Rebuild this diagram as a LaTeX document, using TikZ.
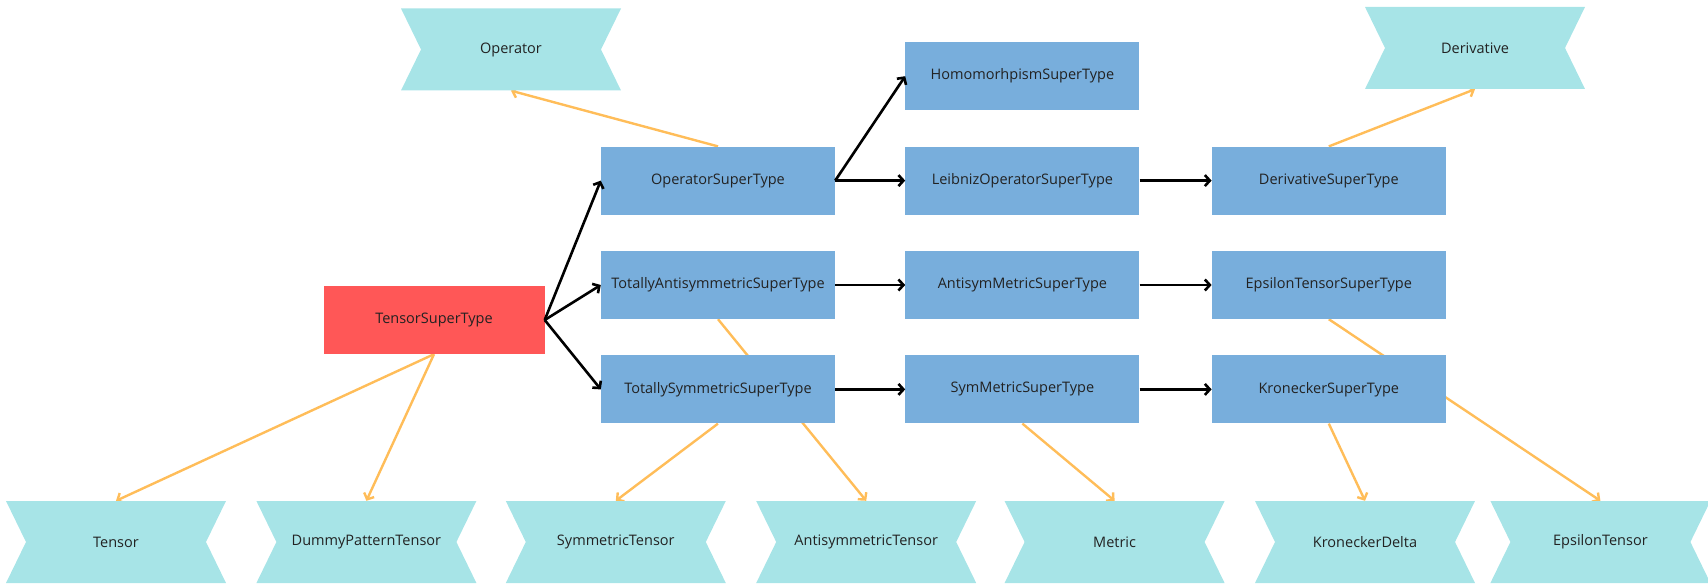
\documentclass[tikz,border=0pt]{standalone}
\usepackage{fontspec}
\setmainfont{Open Sans}
\usetikzlibrary{positioning, calc, arrows.meta, backgrounds}

\definecolor{boxblue}{HTML}{78AEDC}
\definecolor{rootred}{HTML}{FF5757}
\definecolor{ribboncol}{HTML}{A7E4E7}
\definecolor{linkorange}{HTML}{FFBD59}
\definecolor{labeltext}{HTML}{222222}

\begin{document}
\begin{tikzpicture}[
    font=\fontsize{14.5}{17}\selectfont,
    supertype/.style={rectangle, fill=boxblue, text=labeltext, minimum width=234pt, minimum height=68pt, inner sep=0pt},
    root/.style={rectangle, fill=rootred, text=labeltext, minimum width=221pt, minimum height=68pt, inner sep=0pt},
    banner/.style={rectangle, text=labeltext, minimum width=220pt, minimum height=82pt, inner sep=0pt,
        path picture={
            \fill[ribboncol] (path picture bounding box.north west) -- (path picture bounding box.north east)
                -- ([xshift=-20pt]path picture bounding box.east) -- (path picture bounding box.south east)
                -- (path picture bounding box.south west) -- ([xshift=20pt]path picture bounding box.west) -- cycle;
        }},
    isa/.style={-{Straight Barb[length=5pt, width=11pt]}, line width=2.6pt, line join=round, black},
    inst/.style={-{Straight Barb[length=5pt, width=11pt]}, line width=2.4pt, line join=round, linkorange}
]
    \useasboundingbox (0,0) rectangle (1708pt,-585pt);

    % Super types
    \node[root] (tensorst) at (434pt,-320pt) {TensorSuperType};
    \node[supertype] (tanti) at (718pt,-285pt) {TotallyAntisymmetricSuperType};
    \node[supertype] (opst) [above=36pt of tanti] {OperatorSuperType};
    \node[supertype] (tsym) [below=36pt of tanti] {TotallySymmetricSuperType};
    \node[supertype] (antimetricst) [right=70pt of tanti] {AntisymMetricSuperType};
    \node[supertype] (leibnizst) [above=36pt of antimetricst] {LeibnizOperatorSuperType};
    \node[supertype] (homost) [above=36pt of leibnizst] {HomomorhpismSuperType};
    \node[supertype] (symmetricst) [below=36pt of antimetricst] {SymMetricSuperType};
    \node[supertype] (epsst) [right=72pt of antimetricst] {EpsilonTensorSuperType};
    \node[supertype] (derivst) [above=36pt of epsst] {DerivativeSuperType};
    \node[supertype] (kronst) [below=36pt of epsst] {KroneckerSuperType};

    % Types
    \node[banner] (operator) at (511pt,-49.5pt) {Operator};
    \node[banner] (derivative) at (1475pt,-48pt) {Derivative};
    \node[banner] (tensor) at (116pt,-542pt) {Tensor};
    \node[banner] (dummy) [right=30pt of tensor] {DummyPatternTensor};
    \node[banner] (symtensor) [right=29pt of dummy] {SymmetricTensor};
    \node[banner] (antisymtensor) [right=30pt of symtensor] {AntisymmetricTensor};
    \node[banner] (metric) [right=28pt of antisymtensor] {Metric};
    \node[banner] (kronecker) [right=30pt of metric] {KroneckerDelta};
    \node[banner] (epsilon) [right=15pt of kronecker] {EpsilonTensor};

    % Inheritance
    \draw[isa] (tensorst.east) -- (opst.west);
    \draw[isa] (tensorst.east) -- (tanti.west);
    \draw[isa] (tensorst.east) -- (tsym.west);
    \draw[isa] (opst.east) -- (homost.west);
    \draw[isa] (opst.east) -- (leibnizst.west);
    \draw[isa] (leibnizst) -- (derivst);
    \draw[isa] (tanti) -- (antimetricst);
    \draw[isa] (antimetricst) -- (epsst);
    \draw[isa] (tsym) -- (symmetricst);
    \draw[isa] (symmetricst) -- (kronst);

    % Instances
    \begin{scope}[on background layer]
        \draw[inst] (opst.north) -- (operator.south);
        \draw[inst] (derivst.north) -- (derivative.south);
        \draw[inst] (tensorst.south) -- (tensor.north);
        \draw[inst] (tensorst.south) -- (dummy.north);
        \draw[inst] (tsym.south) -- (symtensor.north);
        \draw[inst] (tanti.south) -- (antisymtensor.north);
        \draw[inst] (symmetricst.south) -- (metric.north);
        \draw[inst] (kronst.south) -- (kronecker.north);
        \draw[inst] (epsst.south) -- (epsilon.north);
    \end{scope}
\end{tikzpicture}
\end{document}
